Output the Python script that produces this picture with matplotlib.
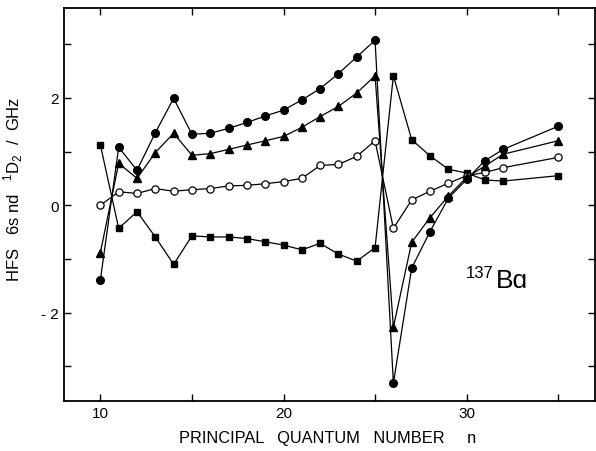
import matplotlib
matplotlib.use('Agg')
import matplotlib.pyplot as plt

plt.rcParams['font.family'] = ['Liberation Sans', 'DejaVu Sans']
plt.rcParams['mathtext.fontset'] = 'custom'
plt.rcParams['mathtext.rm'] = 'Liberation Sans'

# principal quantum number
n = [10, 11, 12, 13, 14, 15, 16, 17, 18, 19, 20, 21, 22, 23, 24, 25,
     26, 27, 28, 29, 30, 31, 32, 35]

# HFS values in GHz
hfs_circle = [-1.39, 1.08, 0.65, 1.35, 1.99, 1.32, 1.34, 1.43, 1.54, 1.66, 1.77, 1.96,
              2.17, 2.45, 2.76, 3.07, -3.31, -1.17, -0.49, 0.13, 0.48, 0.83, 1.04, 1.47]
hfs_triangle = [-0.88, 0.78, 0.50, 0.98, 1.34, 0.93, 0.96, 1.04, 1.12, 1.20, 1.28, 1.45,
                1.65, 1.84, 2.09, 2.41, -2.27, -0.69, -0.23, 0.17, 0.52, 0.73, 0.95, 1.20]
hfs_open = [0.0, 0.25, 0.22, 0.31, 0.26, 0.29, 0.31, 0.36, 0.37, 0.40, 0.44, 0.50,
            0.74, 0.76, 0.91, 1.20, -0.43, 0.10, 0.26, 0.41, 0.55, 0.61, 0.70, 0.89]
hfs_square = [1.12, -0.43, -0.12, -0.59, -1.10, -0.57, -0.59, -0.59, -0.62, -0.68, -0.74, -0.83,
              -0.71, -0.91, -1.04, -0.79, 2.41, 1.22, 0.92, 0.67, 0.60, 0.47, 0.45, 0.55]

fig = plt.figure(figsize=(5.96, 4.52), dpi=100)
ax = fig.add_axes([0.107, 0.111, 0.891, 0.869])

lw = 0.9
ax.plot(n, hfs_square, '-s', color='black', lw=lw, ms=5.0)
ax.plot(n, hfs_open, '-o', color='black', mfc='white', lw=lw, ms=5.2, mew=0.9)
ax.plot(n, hfs_triangle, '-^', color='black', lw=lw, ms=5.2)
ax.plot(n, hfs_circle, '-o', color='black', lw=lw, ms=5.5)

ax.set_xlim(8, 37)
ax.set_ylim(-3.64, 3.67)
ax.set_xticks([10, 15, 20, 25, 30, 35])
ax.set_xticklabels(['10', '', '20', '', '30', ''])
ax.set_yticks([-3, -2, -1, 0, 1, 2, 3])
ax.set_yticklabels(['', '- 2', '', '0', '', '2', ''])
ax.tick_params(direction='in', top=True, right=True, length=5, width=1, labelsize=11)
for s in ax.spines.values():
    s.set_linewidth(1.3)

ax.set_xlabel('PRINCIPAL   QUANTUM   NUMBER     n', fontsize=11.8)
ax.xaxis.set_label_coords(0.497, -0.074)
ax.set_ylabel(r'HFS   6s nd   $^1$D$_2$  /  GHz', fontsize=12)
ax.yaxis.set_label_coords(-0.073, 0.54)

ax.text(29.93, -1.34, '137', fontsize=12, va='baseline', ha='left')
ax.text(31.57, -1.53, 'B\u0251', fontsize=19, va='baseline', ha='left',
        family=['Liberation Sans', 'DejaVu Sans'])

fig.savefig('out.png', dpi=100)
